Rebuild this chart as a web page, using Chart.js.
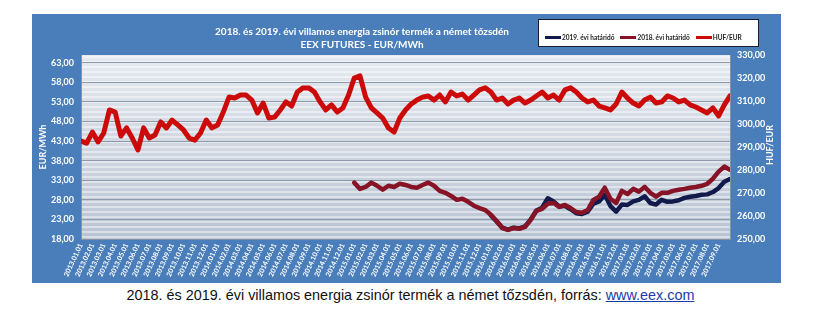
<!DOCTYPE html>
<html>
<head>
<meta charset="utf-8">
<script src="https://cdn.jsdelivr.net/npm/chart.js@4.4.1/dist/chart.umd.min.js"></script>
<style>
body { margin: 0; background: #fff; width: 815px; height: 327px; position: relative; overflow: hidden; font-family: Lato, 'Open Sans', sans-serif; }
#frame { position: absolute; left: 32px; top: 14px; width: 749px; height: 269px; background: #4a7ebb; }
#chart { position: absolute; left: 0; top: 0; }
#title { position: absolute; left: 130px; top: 11px; width: 400px; text-align: center; color: #fff; font-weight: bold; font-size: 10px; line-height: 13px; }
#legend { position: absolute; left: 506px; top: 5px; width: 213px; height: 21px; background: #fff; border: 1.5px solid #1b1b2b; display: flex; align-items: flex-end; padding: 0 0 5px 6px; box-sizing: content-box; white-space: nowrap; overflow: hidden; }
.item { display: flex; align-items: center; margin-right: 6px; font-size: 6.5px; font-weight: bold; color: #222; white-space: nowrap; }
.swatch { width: 16px; height: 3px; margin-right: 1px; }
#caption { position: absolute; left: 0; width: 821px; top: 287px; text-align: center; font-family: 'Liberation Sans', Arial, sans-serif; font-size: 14.4px; color: #111; }
#caption span { color: #1a3caa; text-decoration: underline; }
</style>
</head>
<body>
<div id="frame">
  <canvas id="chart" width="749" height="269"></canvas>
  <div id="title">2018. és 2019. évi villamos energia zsinór termék a német tőzsdén<br>EEX FUTURES - EUR/MWh</div>
  <div id="legend"></div>
</div>
<div id="caption">2018. és 2019. évi villamos energia zsinór termék a német tőzsdén, forrás: <span>www.eex.com</span></div>
<script>
// havi címkék az x tengelyen
const monthLabels = [
  '2013.01.01','2013.02.01','2013.03.01','2013.04.01','2013.05.01','2013.06.01','2013.07.01','2013.08.01','2013.09.01','2013.10.01','2013.11.01','2013.12.01',
  '2014.01.01','2014.02.01','2014.03.01','2014.04.01','2014.05.01','2014.06.01','2014.07.01','2014.08.01','2014.09.01','2014.10.01','2014.11.01','2014.12.01',
  '2015.01.01','2015.02.01','2015.03.01','2015.04.01','2015.05.01','2015.06.01','2015.07.01','2015.08.01','2015.09.01','2015.10.01','2015.11.01','2015.12.01',
  '2016.01.01','2016.02.01','2016.03.01','2016.04.01','2016.05.01','2016.06.01','2016.07.01','2016.08.01','2016.09.01','2016.10.01','2016.11.01','2016.12.01',
  '2017.01.01','2017.02.01','2017.03.01','2017.04.01','2017.05.01','2017.06.01','2017.07.01','2017.08.01','2017.09.01'
];
const leftTicks = [18, 23, 28, 33, 38, 43, 48, 53, 58, 63];

// félhavi értékek (a sorozat kezdőhónapja a 2013.01 indexhez képest)
const sampleStep = 0.5;
const hufEurStart = 0;
const hufEur = [
  292.6, 291.7, 296.5, 292.2, 296.1, 306.1, 305.2, 294.8, 298.3, 293.9,
  288.7, 298.3, 293.9, 295.2, 300.9, 298.3, 301.7, 299.6, 297.4, 293.9,
  293.0, 296.1, 301.7, 298.3, 299.6, 305.2, 311.7, 311.3, 312.6, 312.6,
  310.4, 304.8, 309.1, 302.6, 303.0, 306.1, 309.6, 307.8, 313.9, 315.7,
  315.7, 313.9, 309.6, 306.1, 308.3, 305.2, 307.0, 312.6, 320.0, 320.9,
  311.7, 307.0, 304.8, 302.6, 298.3, 296.5, 302.6, 306.1, 308.7, 310.4,
  311.7, 312.2, 310.4, 312.6, 309.6, 313.9, 312.2, 313.0, 310.4, 312.6,
  314.8, 315.7, 313.9, 310.4, 311.3, 308.7, 310.4, 311.3, 309.1, 310.4,
  312.2, 313.9, 311.3, 312.6, 310.4, 314.8, 315.7, 313.9, 311.3, 309.6,
  310.4, 307.8, 307.0, 306.1, 308.7, 313.9, 311.3, 309.1, 307.8, 310.4,
  311.7, 309.1, 309.6, 312.2, 311.3, 309.6, 310.4, 308.3, 307.4, 306.1,
  304.8, 307.0, 303.5, 308.3, 312.2
];
const cal18Start = 24;
const cal18 = [
  32.4, 30.8, 31.3, 32.4, 31.6, 30.6, 31.6, 31.3, 32.1, 31.8,
  31.3, 31.1, 31.8, 32.4, 31.6, 30.3, 29.8, 29.0, 28.0, 28.3,
  27.5, 26.5, 25.9, 25.4, 24.2, 22.6, 20.8, 20.3, 20.8, 20.6,
  21.1, 22.9, 25.2, 25.7, 27.0, 27.2, 26.2, 26.7, 25.9, 24.9,
  24.7, 25.4, 28.0, 28.8, 31.1, 28.3, 27.2, 30.3, 29.5, 30.8,
  30.1, 31.3, 29.8, 28.8, 29.8, 29.8, 30.3, 30.6, 30.8, 31.1,
  31.3, 31.6, 32.1, 33.4, 35.2, 36.5, 35.7
];
const cal19Start = 36;
const cal19 = [
  24.0, 22.5, 20.9, 20.4, 20.9, 20.7, 21.2, 23.0, 25.3, 26.0,
  28.4, 27.6, 26.3, 26.5, 25.6, 24.6, 24.4, 25.0, 27.0, 27.6,
  29.3, 26.4, 25.0, 26.8, 26.7, 27.6, 28.0, 28.9, 27.2, 26.8,
  28.0, 27.5, 27.6, 27.9, 28.5, 28.8, 29.0, 29.3, 29.4, 30.0,
  31.0, 32.6, 33.3
];

function toPoints(values, start) {
  return values.map((v, i) => ({ x: start + i * sampleStep, y: v }));
}
function fmt(v) {
  return v.toFixed(2).replace('.', ',');
}

// csíkos rajzterület háttér
const plotBackground = {
  id: 'plotBackground',
  beforeDraw(chart) {
    const { ctx, chartArea: a } = chart;
    ctx.save();
    const g = ctx.createLinearGradient(0, a.top, 0, a.bottom);
    g.addColorStop(0, '#e6eaf0');
    g.addColorStop(1, '#b9c4d3');
    ctx.fillStyle = g;
    ctx.fillRect(a.left, a.top, a.right - a.left, a.bottom - a.top);
    ctx.strokeStyle = 'rgba(255,255,255,0.6)';
    ctx.lineWidth = 1.5;
    for (let y = a.top + 2; y < a.bottom; y += 5) {
      ctx.beginPath();
      ctx.moveTo(a.left, y);
      ctx.lineTo(a.right, y);
      ctx.stroke();
    }
    ctx.restore();
  }
};

// jobb oldali tengelycím alulról felfelé olvasva
const rightTitle = {
  id: 'rightTitle',
  afterDraw(chart) {
    const { ctx, chartArea: a } = chart;
    ctx.save();
    ctx.translate(738, (a.top + a.bottom) / 2 - 2);
    ctx.rotate(-Math.PI / 2);
    ctx.fillStyle = '#fff';
    ctx.font = 'bold 9px Lato';
    ctx.textAlign = 'center';
    ctx.textBaseline = 'middle';
    ctx.fillText('HUF/EUR', 0, 0);
    ctx.restore();
  }
};

const chart = new Chart(document.getElementById('chart'), {
  type: 'line',
  data: {
    datasets: [
      { label: '2019. évi határidő', data: toPoints(cal19, cal19Start), yAxisID: 'y', borderColor: '#121a4c', borderWidth: 4.5, order: 3 },
      { label: '2018. évi határidő', data: toPoints(cal18, cal18Start), yAxisID: 'y', borderColor: '#861426', borderWidth: 4.5, order: 2 },
      { label: 'HUF/EUR', data: toPoints(hufEur, hufEurStart), yAxisID: 'y1', borderColor: '#cc0a0a', borderWidth: 5, order: 1 }
    ]
  },
  options: {
    responsive: false,
    animation: false,
    layout: { padding: { top: 41, left: 0, right: 0, bottom: 0 } },
    elements: { point: { radius: 0 }, line: { tension: 0, borderJoinStyle: 'round', borderCapStyle: 'round' } },
    plugins: { legend: { display: false }, tooltip: { enabled: false } },
    scales: {
      x: {
        type: 'linear', min: 0, max: 57,
        afterBuildTicks: (s) => { s.ticks = monthLabels.map((_, i) => ({ value: i })); },
        afterFit: (s) => { s.height = 44; },
        grid: { display: false, drawTicks: false },
        border: { display: true, color: '#8593a5' },
        ticks: {
          autoSkip: false, minRotation: 65, maxRotation: 65, padding: 3,
          color: '#fff', font: { size: 7, weight: 'bold', family: 'Lato' },
          callback: (v) => monthLabels[v]
        }
      },
      y: {
        position: 'left', min: 18, max: 65,
        afterBuildTicks: (s) => { s.ticks = leftTicks.map(v => ({ value: v })); },
        afterFit: (s) => { s.width = 49; },
        grid: { color: '#8f9bab', lineWidth: 1, drawTicks: false },
        border: { display: true, color: '#8593a5' },
        title: { display: true, text: 'EUR/MWh', color: '#fff', font: { size: 9, weight: 'bold', family: 'Lato' }, padding: { top: 6, bottom: 0 } },
        ticks: { color: '#fff', padding: 7, font: { size: 9, weight: 'bold', family: 'Lato' }, callback: (v) => fmt(v) }
      },
      y1: {
        position: 'right', min: 250, max: 330,
        afterFit: (s) => { s.width = 51; },
        grid: { display: false, drawTicks: false },
        border: { display: true, color: '#8593a5' },
        ticks: { stepSize: 10, color: '#fff', padding: 7, font: { size: 9, weight: 'bold', family: 'Lato' }, callback: (v) => fmt(v) }
      }
    }
  },
  plugins: [plotBackground, rightTitle]
});

// jelmagyarázat a keretben
const legendBox = document.getElementById('legend');
chart.data.datasets.forEach(ds => {
  const item = document.createElement('div');
  item.className = 'item';
  const sw = document.createElement('div');
  sw.className = 'swatch';
  sw.style.background = ds.borderColor;
  const txt = document.createElement('span');
  txt.textContent = ds.label;
  item.appendChild(sw);
  item.appendChild(txt);
  legendBox.appendChild(item);
});
</script>
</body>
</html>
